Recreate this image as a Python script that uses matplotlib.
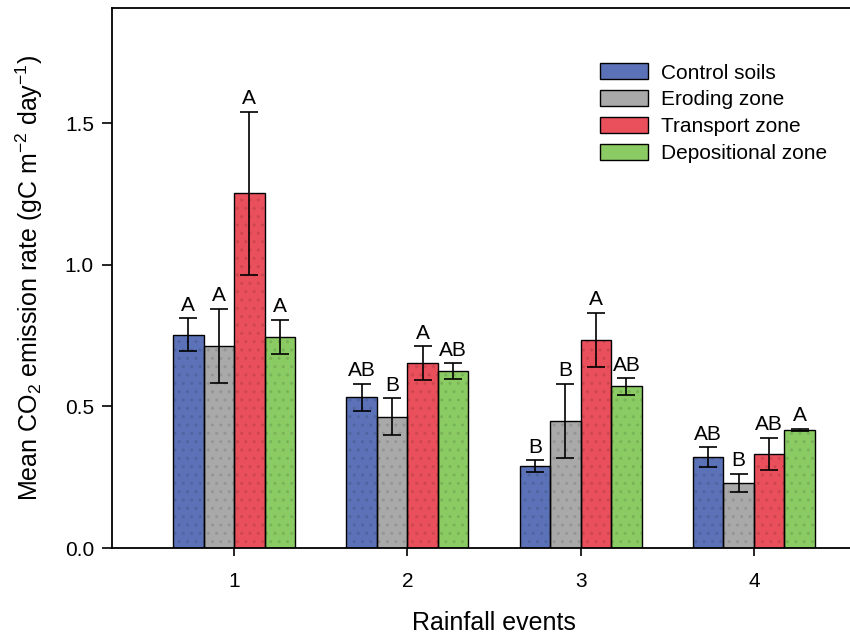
import numpy as np
import matplotlib.pyplot as plt
import matplotlib.colors as mcolors

plt.rcParams['font.family'] = ['Liberation Sans', 'DejaVu Sans']
plt.rcParams['mathtext.default'] = 'regular'
plt.rcParams['hatch.linewidth'] = 1.0

events = ['1', '2', '3', '4']
zones = ['Control soils', 'Eroding zone', 'Transport zone', 'Depositional zone']
colors = ['#5b72b8', '#a9a9a9', '#e9505b', '#8bcb63']

control = [0.753, 0.532, 0.289, 0.322]
eroding = [0.714, 0.464, 0.449, 0.230]
transport = [1.253, 0.653, 0.735, 0.332]
depositional = [0.746, 0.625, 0.571, 0.418]

control_se = [0.058, 0.048, 0.022, 0.035]
eroding_se = [0.132, 0.065, 0.132, 0.032]
transport_se = [0.288, 0.059, 0.096, 0.058]
depositional_se = [0.060, 0.028, 0.030, 0.003]

control_lbl = ['A', 'AB', 'B', 'AB']
eroding_lbl = ['A', 'B', 'B', 'B']
transport_lbl = ['A', 'A', 'A', 'AB']
depositional_lbl = ['A', 'AB', 'AB', 'A']

means = [control, eroding, transport, depositional]
errs = [control_se, eroding_se, transport_se, depositional_se]
labels = [control_lbl, eroding_lbl, transport_lbl, depositional_lbl]

fig = plt.figure(figsize=(8.5, 6.37), dpi=100)
ax = fig.add_axes([112 / 850, 1 - 548 / 637, (876 - 112) / 850, (548 - 8) / 637])

x = np.arange(1, len(events) + 1)
w = 0.176
for i in range(4):
    pos = x + (i - 1.5) * w
    # dotted texture, a shade darker than the fill
    dark = tuple(c * 0.88 for c in mcolors.to_rgb(colors[i]))
    ax.bar(pos, means[i], width=w, color=colors[i], edgecolor=dark,
           linewidth=0, hatch='..', zorder=2)
    ax.bar(pos, means[i], width=w, facecolor='none', edgecolor='black',
           linewidth=1.0, zorder=2.5)
    ax.errorbar(pos, means[i], yerr=errs[i], fmt='none', ecolor='black',
                elinewidth=1.2, capsize=6.5, capthick=1.2, zorder=3)
    for p, m, e, t in zip(pos, means[i], errs[i], labels[i]):
        ax.text(p, m + e + 0.012, t, ha='center', va='bottom', fontsize=15)

ax.set_xlim(0.296, 4.704)
ax.set_ylim(0, 1.908)
ax.set_xticks(x)
ax.set_xticklabels(events)
ax.set_yticks([0.0, 0.5, 1.0, 1.5])
ax.set_yticklabels(['0.0', '0.5', '1.0', '1.5'])
ax.tick_params(axis='both', direction='out', labelsize=15, width=1.2)
ax.tick_params(axis='y', length=7, pad=6)
ax.tick_params(axis='x', length=6, pad=11)
for s in ax.spines.values():
    s.set_linewidth(1.3)

ax.set_xlabel('Rainfall events', fontsize=18, labelpad=15)
ax.set_ylabel('Mean CO$_2$ emission rate (gC m$^{-2}$ day$^{-1}$)', fontsize=18, labelpad=14)

handles = [plt.Rectangle((0, 0), 1, 1, facecolor=colors[i], edgecolor='black',
                         linewidth=1.0) for i in range(4)]
ax.legend(handles, zones, loc='upper left', bbox_to_anchor=(0.614, 0.932),
          frameon=False, fontsize=15, handlelength=2.3, handleheight=0.8,
          handletextpad=0.62, labelspacing=0.36)

fig.savefig('out.png', dpi=100)
